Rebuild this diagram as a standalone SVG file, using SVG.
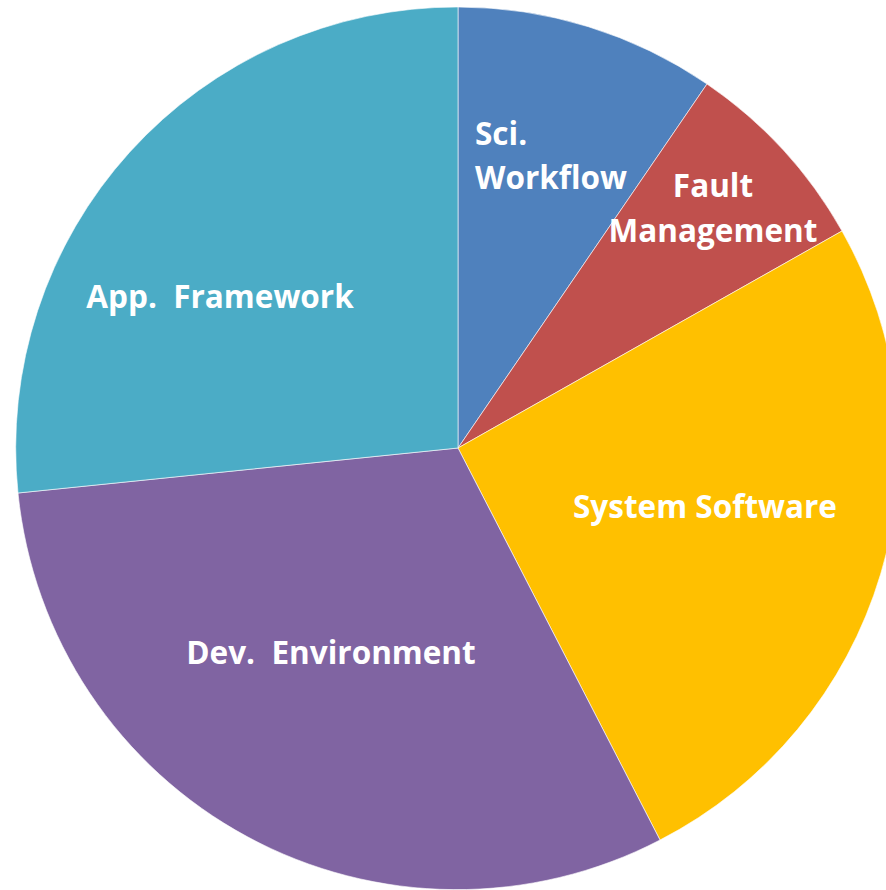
<svg xmlns="http://www.w3.org/2000/svg" width="886" height="890" viewBox="0 0 886 890">
<style>
.lbl{font-family:"Open Sans","Liberation Sans",sans-serif;font-weight:bold;font-size:31.5px;fill:#ffffff}
.sl{stroke:#ffffff;stroke-width:0.6}
</style>
<rect width="886" height="890" fill="#ffffff"/>
<g id="sci-workflow">
<path class="sl" d="M458,448 L458,7 A441,441 0 0 1 707,84 Z" fill="#4F81BD"/>
<text class="lbl" x="475" y="145">Sci.</text>
<text class="lbl" x="475" y="189">Workflow</text>
</g>
<g id="fault-management">
<path class="sl" d="M458,448 L707,84 A441,441 0 0 1 842,231 Z" fill="#C0504D"/>
<text class="lbl" x="713" y="197" text-anchor="middle">Fault</text>
<text class="lbl" x="713" y="242" text-anchor="middle">Management</text>
</g>
<g id="system-software">
<path class="sl" d="M458,448 L842,231 A441,441 0 0 1 660,840 Z" fill="#FFC000"/>
<text class="lbl" x="705" y="518" text-anchor="middle">System Software</text>
</g>
<g id="dev-environment">
<path class="sl" d="M458,448 L660,840 A441,441 0 0 1 18,493 Z" fill="#8064A2"/>
<text class="lbl" x="331" y="664" text-anchor="middle" xml:space="preserve">Dev.  Environment</text>
</g>
<g id="app-framework">
<path class="sl" d="M458,448 L18,493 A441,441 0 0 1 458,7 Z" fill="#4BACC6"/>
<text class="lbl" x="220" y="308" text-anchor="middle" xml:space="preserve">App.  Framework</text>
</g>
<g id="connectors"></g>
</svg>
